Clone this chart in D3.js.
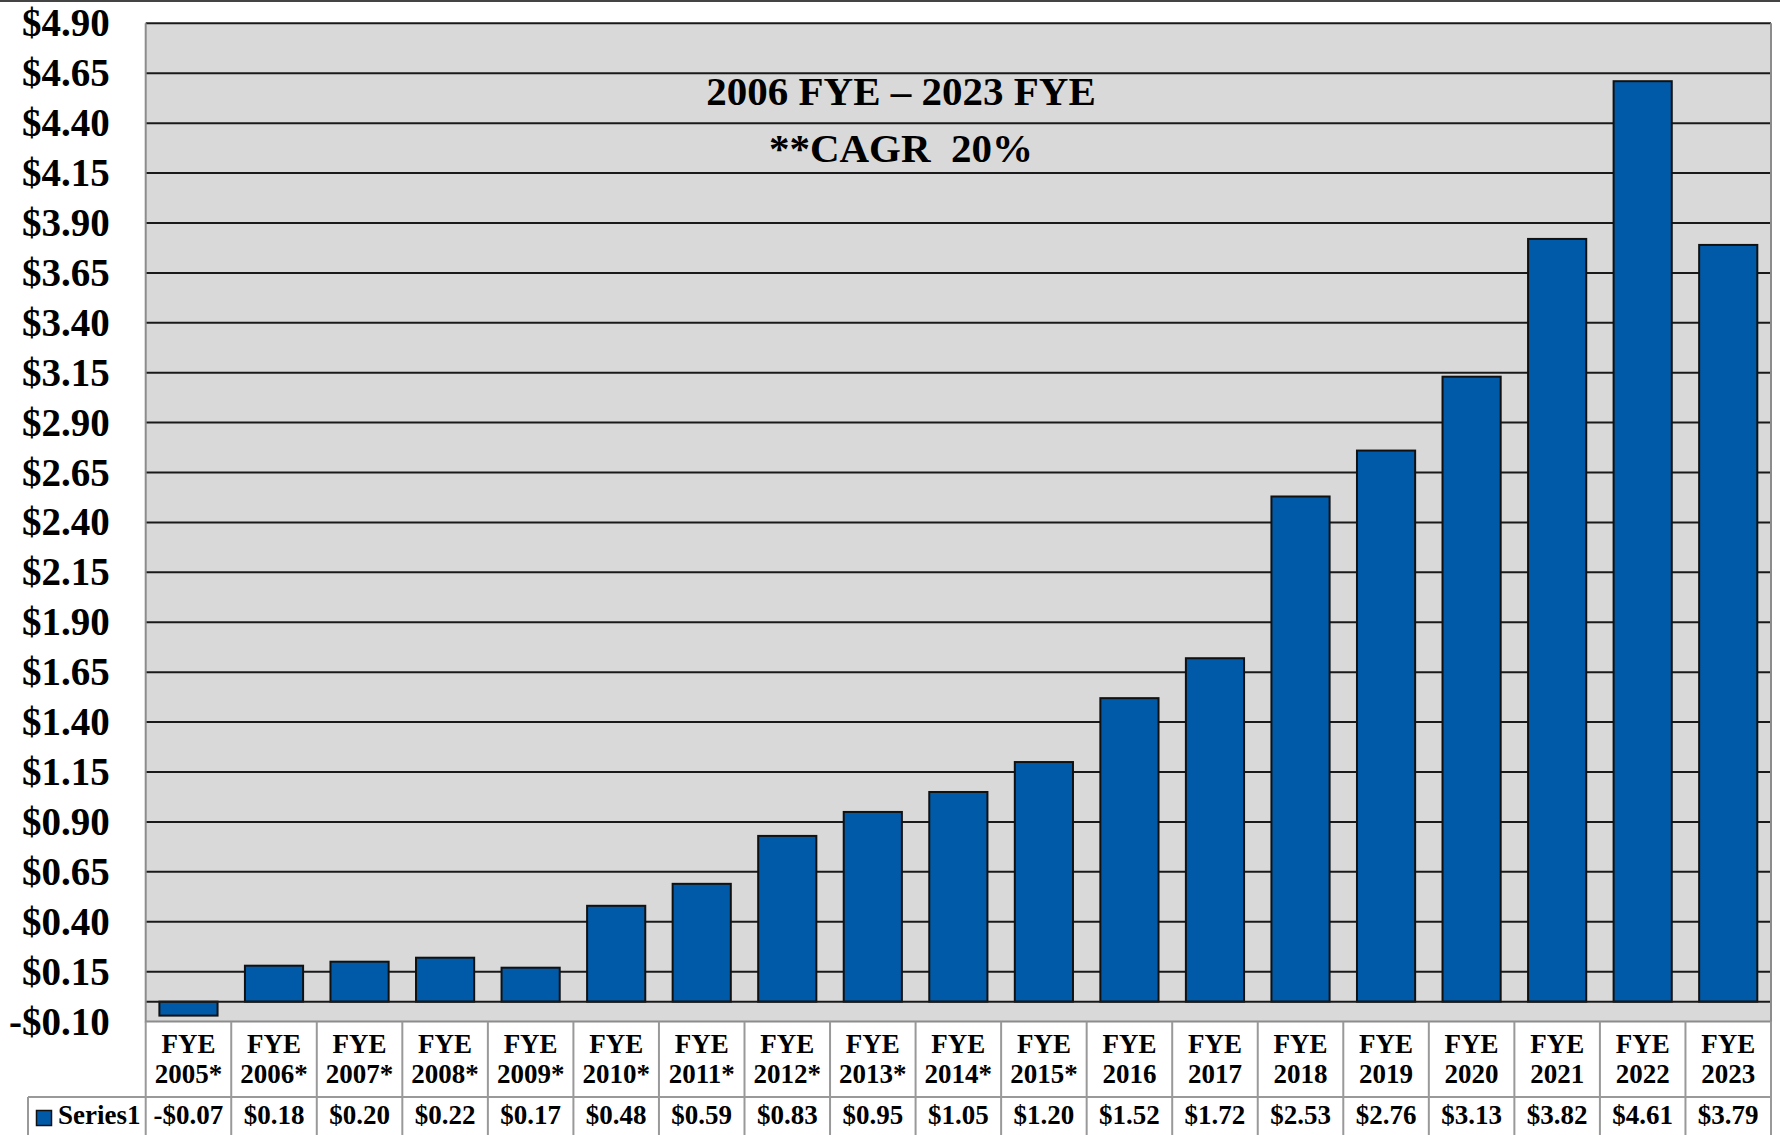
<!DOCTYPE html>
<html>
<head>
<meta charset="utf-8">
<script src="https://cdn.jsdelivr.net/npm/d3@7"></script>
<style>
  html, body { margin: 0; padding: 0; background: #fff; }
  svg { display: block; }
  text { font-family: "Liberation Serif", "Times New Roman", serif; font-weight: bold; fill: #000; }
</style>
</head>
<body>
<svg id="chart" width="1780" height="1135"></svg>
<script>
const categories = ["2005*", "2006*", "2007*", "2008*", "2009*", "2010*", "2011*", "2012*", "2013*",
  "2014*", "2015*", "2016", "2017", "2018", "2019", "2020", "2021", "2022", "2023"];
const values = [-0.07, 0.18, 0.20, 0.22, 0.17, 0.48, 0.59, 0.83, 0.95, 1.05, 1.20, 1.52, 1.72,
  2.53, 2.76, 3.13, 3.82, 4.61, 3.79];
const yTicks = [-0.10, 0.15, 0.40, 0.65, 0.90, 1.15, 1.40, 1.65, 1.90, 2.15, 2.40, 2.65, 2.90,
  3.15, 3.40, 3.65, 3.90, 4.15, 4.40, 4.65, 4.90];
const titleLines = ["2006 FYE \u2013 2023 FYE", "**CAGR  20%"];
const seriesName = "Series1";

const W = 1780;
const plotLeft = 145.7, plotRight = 1771, plotTop = 23.3, plotBottom = 1021.6;
const tableMid = 1097, tableBottom = 1135;
const barColor = "#005aa8";

const svg = d3.select("#chart");

const money = d => (d < 0 ? "-$" : "$") + Math.abs(d).toFixed(2);

const x = d3.scaleBand().domain(categories).range([plotLeft, plotRight]).padding(0);
const y = d3.scaleLinear().domain([-0.10, 4.90]).range([plotBottom, plotTop]);

// top frame line of the picture
svg.append("line")
  .attr("x1", 0).attr("x2", W).attr("y1", 1).attr("y2", 1)
  .attr("stroke", "#444").attr("stroke-width", 2);

// plot background
svg.append("rect")
  .attr("x", plotLeft).attr("y", plotTop)
  .attr("width", plotRight - plotLeft).attr("height", plotBottom - plotTop)
  .attr("fill", "#d9d9d9");

// gridlines
svg.append("g")
  .selectAll("line")
  .data(yTicks.filter(d => d > -0.1))
  .join("line")
  .attr("x1", plotLeft).attr("x2", plotRight)
  .attr("y1", d => y(d)).attr("y2", d => y(d))
  .attr("stroke", "#1a1a1a").attr("stroke-width", 2);

// y axis labels
const yAxis = svg.append("g")
  .attr("transform", `translate(${plotLeft},0)`)
  .call(d3.axisLeft(y).tickValues(yTicks).tickSize(0).tickPadding(36).tickFormat(money));
yAxis.select(".domain").remove();
yAxis.selectAll("text")
  .attr("font-size", 39)
  .attr("font-family", "Liberation Serif, serif")
  .attr("font-weight", "bold")
  .attr("fill", "#000");

// bars
const bw = x.bandwidth() * 0.68;
svg.append("g")
  .selectAll("rect")
  .data(values)
  .join("rect")
  .attr("x", (d, i) => x(categories[i]) + (x.bandwidth() - bw) / 2)
  .attr("y", d => y(Math.max(0, d)))
  .attr("width", bw)
  .attr("height", d => Math.abs(y(d) - y(0)))
  .attr("fill", barColor)
  .attr("stroke", "#111")
  .attr("stroke-width", 2);

// horizontal axis at zero
svg.append("line")
  .attr("x1", plotLeft).attr("x2", plotRight)
  .attr("y1", y(0)).attr("y2", y(0))
  .attr("stroke", "#1a1a1a").attr("stroke-width", 2);

// plot border (left/right/bottom)
svg.append("path")
  .attr("d", `M${plotLeft},${plotTop}V${plotBottom}H${plotRight}V${plotTop}`)
  .attr("fill", "none").attr("stroke", "#8c8c8c").attr("stroke-width", 2);

// title
svg.append("g")
  .selectAll("text")
  .data(titleLines)
  .join("text")
  .attr("x", 901)
  .attr("y", (d, i) => 105 + i * 57)
  .attr("text-anchor", "middle")
  .attr("font-size", 41)
  .style("white-space", "pre")
  .text(d => d);

// data table
const grid = svg.append("g").attr("stroke", "#999").attr("stroke-width", 2).attr("fill", "none");
grid.selectAll("line.v")
  .data(categories.concat(["end"]))
  .join("line")
  .attr("class", "v")
  .attr("x1", (d, i) => plotLeft + i * x.step())
  .attr("x2", (d, i) => plotLeft + i * x.step())
  .attr("y1", plotBottom).attr("y2", tableBottom);
grid.append("line")
  .attr("x1", 28).attr("x2", plotRight).attr("y1", tableMid).attr("y2", tableMid);
grid.append("line")
  .attr("x1", 28).attr("x2", 28).attr("y1", tableMid).attr("y2", tableBottom);

const cats = svg.append("g")
  .selectAll("text")
  .data(categories)
  .join("text")
  .attr("x", d => x(d) + x.bandwidth() / 2)
  .attr("text-anchor", "middle")
  .attr("font-size", 27);
cats.append("tspan").attr("x", d => x(d) + x.bandwidth() / 2).attr("y", 1053).text("FYE");
cats.append("tspan").attr("x", d => x(d) + x.bandwidth() / 2).attr("y", 1083).text(d => d);

svg.append("g")
  .selectAll("text")
  .data(values)
  .join("text")
  .attr("x", (d, i) => x(categories[i]) + x.bandwidth() / 2)
  .attr("y", 1124)
  .attr("text-anchor", "middle")
  .attr("font-size", 27)
  .text(d => money(d));

// legend key
svg.append("rect")
  .attr("x", 36.5).attr("y", 1110.5).attr("width", 15).attr("height", 15)
  .attr("fill", barColor).attr("stroke", "#111").attr("stroke-width", 1.5);
svg.append("text")
  .attr("x", 58).attr("y", 1124)
  .attr("font-size", 27)
  .text(seriesName);
</script>
</body>
</html>
